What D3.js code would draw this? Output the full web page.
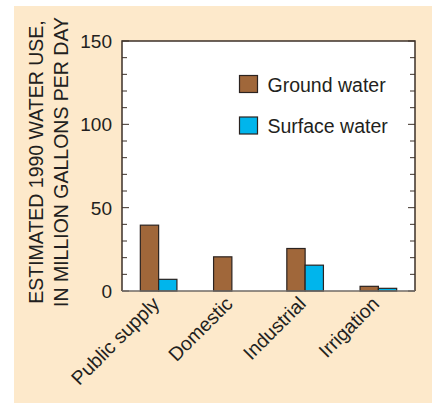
<!DOCTYPE html>
<html>
<head>
<meta charset="utf-8">
<script src="https://cdn.jsdelivr.net/npm/d3@7"></script>
<style>
  body { margin: 0; background: #fff; }
  svg { display: block; font-family: "Liberation Sans", Arial, sans-serif; }
</style>
</head>
<body>
<div id="chart"></div>
<script>
// estimated 1990 water use, million gallons per day
const categories = ["Public supply", "Domestic", "Industrial", "Irrigation"];
const series = ["Ground water", "Surface water"];
const groundWater = [39.5, 20.5, 25.5, 2.8];
const surfaceWater = [7, 0, 15.5, 1.6];
const yTicks = [0, 50, 100, 150];
const colors = ["#a0673a", "#00b5ec"];

const W = 432, H = 403;
const margin = { top: 41, right: 17, bottom: 112, left: 122 };
const width = W - margin.left - margin.right;
const height = H - margin.top - margin.bottom;
const fs = 19.5;

const svg = d3.select("#chart").append("svg")
    .attr("width", W)
    .attr("height", H);

// beige panel
svg.append("rect")
    .attr("x", 14).attr("y", 6)
    .attr("width", W - 14).attr("height", H - 6)
    .attr("fill", "#fde9cb");

const g = svg.append("g")
    .attr("transform", "translate(" + margin.left + "," + margin.top + ")");

g.append("rect")
    .attr("width", width).attr("height", height)
    .attr("fill", "#fff");

const x0 = d3.scaleBand().domain(categories).range([0, width]).padding(0);
const bw = 18.3;
const x1 = d3.scaleBand().domain(series)
    .range([x0.bandwidth() / 2 - bw, x0.bandwidth() / 2 + bw]);

const y = d3.scaleLinear().domain([0, 150]).range([height, 0]);

const rows = categories.map((c, i) => ({ cat: c, vals: [groundWater[i], surfaceWater[i]] }));

// inward ticks, both sides
const minor = d3.range(0, 151, 10).filter(v => v % 50 !== 0);
function ticks(sel, x, dir) {
    sel.selectAll("line.minor").data(minor).enter().append("line")
        .attr("x1", x).attr("x2", x + dir * 5)
        .attr("y1", d => y(d)).attr("y2", d => y(d))
        .attr("stroke", "#3d3128");
    sel.selectAll("line.major").data(yTicks).enter().append("line")
        .attr("x1", x).attr("x2", x + dir * 7)
        .attr("y1", d => y(d)).attr("y2", d => y(d))
        .attr("stroke", "#3d3128");
}
ticks(g.append("g"), 0, 1);
ticks(g.append("g"), width, -1);

g.selectAll("text.ytick").data(yTicks).enter().append("text")
    .attr("x", -10).attr("y", d => y(d))
    .attr("dy", "0.36em")
    .attr("text-anchor", "end")
    .attr("font-size", 19)
    .attr("fill", "#231f20")
    .text(d => d);

// bars
g.selectAll("g.grp").data(rows).enter().append("g")
    .attr("transform", d => "translate(" + x0(d.cat) + ",0)")
    .selectAll("rect").data(d => d.vals.map((v, j) => ({ s: series[j], v: v, j: j })))
    .enter().filter(d => d.v > 0).append("rect")
    .attr("x", d => x1(d.s))
    .attr("y", d => y(d.v))
    .attr("width", x1.bandwidth())
    .attr("height", d => height - y(d.v))
    .attr("fill", d => colors[d.j])
    .attr("stroke", "#2b2320")
    .attr("stroke-width", 1.2);

// frame
g.append("path")
    .attr("d", "M0," + height + "V0H" + width + "V" + height)
    .attr("fill", "none")
    .attr("stroke", "#3d3128")
    .attr("stroke-width", 1.5);
g.append("line")
    .attr("x1", 0).attr("x2", width)
    .attr("y1", height).attr("y2", height)
    .attr("stroke", "#6f6a66")
    .attr("stroke-width", 1.5);

// category labels
g.selectAll("text.cat").data(categories).enter().append("text")
    .attr("transform", d => "translate(" + (x0(d) + x0.bandwidth() / 2 + 2) + "," + (height + 14) + ") rotate(-45)")
    .attr("text-anchor", "end")
    .attr("font-size", fs)
    .attr("fill", "#231f20")
    .text(d => d);

// legend
const leg = g.selectAll("g.leg").data(series).enter().append("g")
    .attr("transform", (d, i) => "translate(" + (239.5 - margin.left) + "," + (75.5 - margin.top + i * 41.5) + ")");
leg.append("rect")
    .attr("width", 18).attr("height", 17)
    .attr("fill", (d, i) => colors[i])
    .attr("stroke", "#2b2320")
    .attr("stroke-width", 1.2);
leg.append("text")
    .attr("x", 28).attr("y", 16)
    .attr("font-size", fs)
    .attr("fill", "#231f20")
    .text(d => d);

// y title
const yt = svg.append("text")
    .attr("transform", "translate(0," + (margin.top + height / 2 - 4) + ") rotate(-90)")
    .attr("text-anchor", "middle")
    .attr("font-size", fs)
    .attr("fill", "#231f20");
yt.append("tspan").attr("x", 0).attr("y", 43).text("ESTIMATED 1990 WATER USE,");
yt.append("tspan").attr("x", 0).attr("y", 68).text("IN MILLION GALLONS PER DAY");
</script>
</body>
</html>
